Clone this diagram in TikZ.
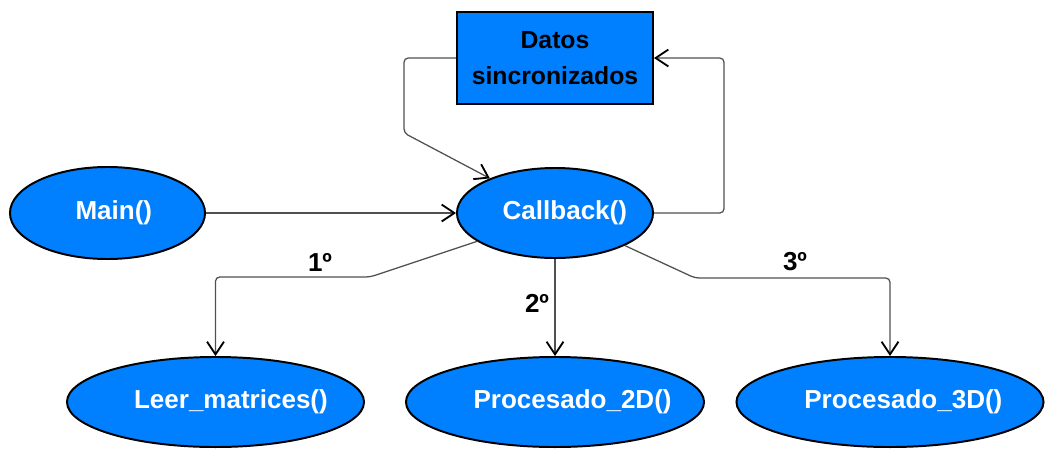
\documentclass[tikz,border=0pt]{standalone}
\usepackage{fontspec}
\setmainfont{Liberation Sans}
\usetikzlibrary{arrows.meta,shapes.geometric}
\definecolor{FuncBlue}{RGB}{0,127,255}
\definecolor{LineGray}{RGB}{80,80,80}

\begin{document}
\begin{tikzpicture}[x=0.025cm, y=-0.025cm,
    funcnode/.style={ellipse, draw=black, line width=1.4pt, fill=FuncBlue,
        text=white, inner sep=0pt, font=\fontsize{18.5}{22}\selectfont\bfseries},
    % push the label a bit to the right, size comes from minimum width/height
    textpad/.style={execute at begin node={\hbox to 0pt\bgroup\hss\hspace*{#1}},
        execute at end node={\hss\egroup}},
    datanode/.style={rectangle, draw=black, line width=1.4pt, fill=FuncBlue,
        align=center, inner sep=0pt, font=\fontsize{17.6}{26}\selectfont\bfseries},
    conn/.style={draw=LineGray, line width=0.9pt, rounded corners=3pt,
        -{Straight Barb[black, length=9pt, width=12pt, line width=1.3pt]}},
    orderlabel/.style={font=\fontsize{18.5}{22}\selectfont\bfseries}]

    % Canvas, in pixel-like units
    \useasboundingbox (0,0) rectangle (1046,448);

    % Shared data block
    \node[datanode, minimum width=4.9cm, minimum height=2.3cm] (datos) at (555,58)
        {Datos\\sincronizados};

    % Functions
    \node[funcnode, textpad=9pt, minimum width=4.875cm, minimum height=2.3cm] (main) at (107.5,213) {Main()};
    \node[funcnode, textpad=14pt, minimum width=4.9cm, minimum height=2.25cm] (callback) at (555,213) {Callback()};
    \node[funcnode, textpad=22pt, minimum width=7.425cm, minimum height=2.25cm] (leer) at (215.5,402) {Leer\_matrices()};
    \node[funcnode, textpad=25pt, minimum width=7.45cm, minimum height=2.25cm] (proc2d) at (555,402) {Procesado\_2D()};
    \node[funcnode, textpad=19pt, minimum width=7.675cm, minimum height=2.25cm] (proc3d) at (890,402) {Procesado\_3D()};

    % Loop between callback and the synchronized data
    \draw[conn] (datos.west) -- ++(-52,0) -- ++(0,75) -- (callback.152);
    \draw[conn] (callback.east) -- ++(70,0) |- (datos.east);

    % Entry point
    \draw[conn] (main.east) -- (callback.west);

    % Calls in order
    \draw[conn] (callback.200) -- (370,277) -| (leer.north);
    \draw[conn] (callback.south) -- (proc2d.north);
    \draw[conn] (callback.335) -- (695,278) -| (proc3d.north);

    % Order labels
    \node[orderlabel] (first) at (320,262) {1º};
    \node[orderlabel] (second) at (537,303) {2º};
    \node[orderlabel] (third) at (795,262) {3º};
\end{tikzpicture}
\end{document}
